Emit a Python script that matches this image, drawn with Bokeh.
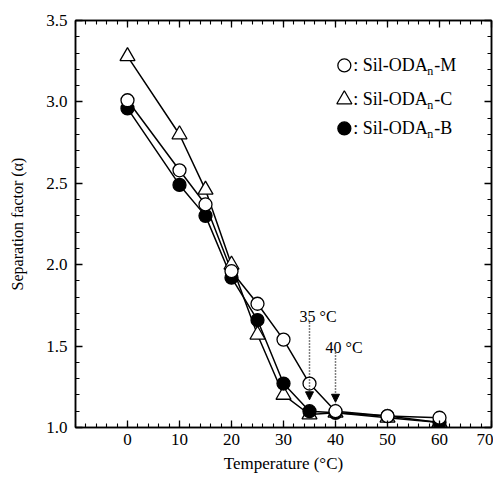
from bokeh.plotting import figure
from bokeh.models import LinearAxis, FixedTicker, Arrow, NormalHead, Range1d, CustomJSTickFormatter
from bokeh.core.properties import value
from bokeh.embed import file_html
from bokeh.resources import INLINE

# Data
temp_M = [0, 10, 15, 20, 25, 30, 35, 40, 50, 60]
alpha_M = [3.01, 2.58, 2.37, 1.96, 1.76, 1.54, 1.27, 1.10, 1.07, 1.06]
temp_C = [0, 10, 15, 20, 25, 30, 35, 40, 50, 60]
alpha_C = [3.28, 2.80, 2.46, 2.00, 1.57, 1.20, 1.08, 1.09, 1.06, 1.03]
temp_B = [0, 10, 15, 20, 25, 30, 35, 40, 50, 60]
alpha_B = [2.96, 2.49, 2.30, 1.92, 1.66, 1.27, 1.10, 1.09, 1.07, 1.03]

x_ticks = [0, 10, 20, 30, 40, 50, 60, 70]
x_minor = list(range(-10, 71, 2))
y_ticks = [1.0, 1.5, 2.0, 2.5, 3.0, 3.5]
y_minor = [round(1.0 + 0.1 * i, 1) for i in range(26)]

legend_names = ["M", "C", "B"]
annot_temps = [35, 40]
annot_labels = ["35 °C", "40 °C"]

FONT = "Liberation Serif"

p = figure(width=493, height=476, output_backend="svg", toolbar_location=None,
           x_range=Range1d(-10, 70), y_range=Range1d(1.0, 3.5),
           min_border_left=75, min_border_right=2, min_border_top=20, min_border_bottom=49,
           x_axis_label="Temperature (°C)", y_axis_label="Separation factor (α)")
p.xgrid.visible = False
p.ygrid.visible = False
p.outline_line_color = "black"
p.outline_line_width = 1.5
p.background_fill_color = "white"
p.border_fill_color = "white"

def style_axis(ax, ticks, minor, labels=True):
    ax.ticker = FixedTicker(ticks=ticks, minor_ticks=minor)
    ax.major_tick_in = 7
    ax.major_tick_out = 0
    ax.minor_tick_in = 4
    ax.minor_tick_out = 0
    ax.axis_line_color = "black"
    ax.axis_line_width = 1.5
    ax.major_tick_line_width = 1.3
    ax.minor_tick_line_width = 1.1
    ax.major_label_text_font = FONT
    ax.major_label_text_font_size = "17px"
    ax.major_label_text_color = "black"
    ax.axis_label_text_font = FONT
    ax.axis_label_text_font_size = "17px"
    ax.axis_label_text_font_style = "normal"
    ax.axis_label_text_color = "black"
    if not labels:
        ax.formatter = CustomJSTickFormatter(code="return ''")
        ax.major_label_standoff = 0

style_axis(p.xaxis[0], x_ticks, x_minor)
style_axis(p.yaxis[0], y_ticks, y_minor)
p.xaxis[0].major_label_standoff = 6
p.xaxis[0].axis_label_standoff = 6
p.yaxis[0].major_label_standoff = 8
p.yaxis[0].axis_label_standoff = 17
p.yaxis[0].axis_label_text_font_size = "16px"
p.yaxis[0].major_label_overrides = {1.0: "1.0", 1.5: "1.5", 2.0: "2.0", 2.5: "2.5", 3.0: "3.0", 3.5: "3.5"}

top = LinearAxis()
style_axis(top, x_ticks, x_minor, labels=False)
p.add_layout(top, "above")
right = LinearAxis()
style_axis(right, y_ticks, y_minor, labels=False)
p.add_layout(right, "right")

# lines
for xs, ys in [(temp_C, alpha_C), (temp_B, alpha_B), (temp_M, alpha_M)]:
    p.line(xs, ys, line_color="black", line_width=1.5)

# markers
p.scatter(temp_C, alpha_C, marker="triangle", size=15, fill_color="white",
          line_color="black", line_width=1.3)
p.scatter(temp_B, alpha_B, marker="circle", size=13, fill_color="black",
          line_color="black", line_width=1.3)
p.scatter(temp_M, alpha_M, marker="circle", size=13, fill_color="white",
          line_color="black", line_width=1.3)

# annotation arrows
arrow_tops = [1.645, 1.46]
arrow_ends = [1.17, 1.155]
for t, y0, y1 in zip(annot_temps, arrow_tops, arrow_ends):
    p.add_layout(Arrow(end=NormalHead(size=8, fill_color="black", line_color="black", line_width=1),
                       x_start=t, y_start=y0, x_end=t, y_end=y1,
                       line_color="black", line_width=1.5, line_dash="1 2"))
p.text(x=annot_temps, y=[1.68, 1.49], text=annot_labels, text_font=value(FONT),
       text_font_size="16px", text_color="black", text_align="left",
       text_baseline="alphabetic", x_offset=-10)

# legend (manual)
leg_x = 41.7
leg_y = [3.224, 3.015, 2.837]
p.scatter([leg_x], [leg_y[0]], marker="circle", size=13, fill_color="white", line_color="black", line_width=1.3)
p.scatter([leg_x], [leg_y[1]], marker="triangle", size=15, fill_color="white", line_color="black", line_width=1.3)
p.scatter([leg_x], [leg_y[2]], marker="circle", size=13, fill_color="black", line_color="black", line_width=1.3)
p.text(x=[leg_x] * 3, y=leg_y, text=[": Sil-ODA"] * 3, text_font=value(FONT),
       text_font_size="18px", text_color="black", text_align="left",
       text_baseline="middle", x_offset=9, y_offset=0)
p.text(x=[leg_x] * 3, y=leg_y, text=["n"] * 3, text_font=value(FONT),
       text_font_size="12px", text_color="black", text_align="left",
       text_baseline="middle", x_offset=83, y_offset=6)
p.text(x=[leg_x] * 3, y=leg_y, text=["-" + n for n in legend_names], text_font=value(FONT),
       text_font_size="18px", text_color="black", text_align="left",
       text_baseline="middle", x_offset=90, y_offset=0)

open("out.html", "w").write(file_html(p, INLINE))
